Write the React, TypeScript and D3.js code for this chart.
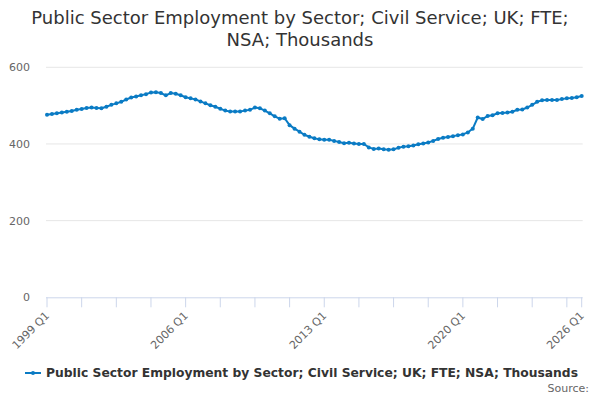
import React from "react";
import * as d3 from "d3";

const titleLines = ["Public Sector Employment by Sector; Civil Service; UK; FTE;", "NSA; Thousands"];
const seriesName = "Public Sector Employment by Sector; Civil Service; UK; FTE; NSA; Thousands";

const startYear = 1999;
const quarters: string[] = [];
for (let y = startYear; y <= 2026; y++) {
  for (let q = 1; q <= 4; q++) {
    if (y === 2026 && q > 1) break;
    quarters.push(`${y} Q${q}`);
  }
}

// thousands, FTE
const values = [
  476, 478, 480, 482, 484, 486, 489, 491, 494, 495, 494, 493, 497, 502, 506, 510,
  516, 521, 524, 527, 530, 534, 535, 533, 527, 533, 531, 527, 522, 519, 516, 511,
  506, 501, 497, 492, 487, 485, 485, 485, 487, 489, 495, 493, 487, 480, 472, 466,
  467, 449, 440, 432, 424, 419, 415, 412, 411, 411, 408, 405, 402, 403, 401, 400,
  400, 391, 387, 388, 386, 385, 386, 390, 393, 394, 396, 399, 401, 404, 408, 413,
  416, 418, 420, 423, 425, 430, 440, 469, 465, 473, 475, 480, 481, 482, 484, 489,
  490, 495, 502, 510, 514, 515, 515, 515, 517, 519, 520, 522, 525,
];

const yTicks = [0, 200, 400, 600];
const labelEvery = 28;
const tickEvery = 7;

const W = 600;
const H = 400;
const left = 47;
const right = 581.7;
const top = 67.3;
const bottom = 297.3;
const color = "#0a7bc4";

export default function App() {
  const x = d3.scaleLinear().domain([0, quarters.length - 1]).range([left, right]);
  const y = d3.scaleLinear().domain([0, 600]).range([bottom, top]);
  const line = d3
    .line<number>()
    .x((d, i) => x(i))
    .y((d) => y(d));

  const tickIdx = d3.range(0, quarters.length, tickEvery);
  if (tickIdx[tickIdx.length - 1] !== quarters.length - 1) tickIdx.push(quarters.length - 1);
  const labelIdx = tickIdx.filter((i) => i % labelEvery === 0 || i === quarters.length - 1);

  const font = "'DejaVu Sans', sans-serif";

  return (
    <svg width={W} height={H} style={{ position: "absolute", left: 0, top: 0, fontFamily: font }}>
      <rect width={W} height={H} fill="#fff" />
      {titleLines.map((t, i) => (
        <text key={i} x={W / 2} y={24 + i * 22} textAnchor="middle" fontSize={18} fill="#333">
          {t}
        </text>
      ))}
      {yTicks.map((t) => (
        <g key={t}>
          {t > 0 && <line x1={left - 1} x2={right + 1} y1={y(t)} y2={y(t)} stroke="#e6e6e6" />}
          <text x={30} y={y(t) + 4} textAnchor="end" fontSize={11} fill="#666">
            {t}
          </text>
        </g>
      ))}
      <line x1={left - 1} x2={right + 1} y1={bottom + 0.5} y2={bottom + 0.5} stroke="#ccd6eb" />
      {tickIdx.map((i) => (
        <line key={i} x1={x(i)} x2={x(i)} y1={bottom} y2={bottom + 10} stroke="#ccd6eb" />
      ))}
      {labelIdx.map((i) => (
        <text
          key={i}
          transform={`translate(${x(i) + 3},${bottom + 19}) rotate(-45)`}
          textAnchor="end"
          fontSize={11}
          fill="#666"
        >
          {quarters[i]}
        </text>
      ))}
      <path d={line(values) || ""} fill="none" stroke={color} strokeWidth={2} />
      {values.map((v, i) => (
        <circle key={i} cx={x(i)} cy={y(v)} r={2} fill={color} />
      ))}
      <g transform="translate(25,373)">
        <line x1={0} x2={16} y1={0} y2={0} stroke={color} strokeWidth={2} />
        <circle cx={8} cy={0} r={2} fill={color} />
        <text x={21} y={4} fontSize={12.3} fontWeight="bold" fill="#333">
          {seriesName}
        </text>
      </g>
      <text x={589} y={392} textAnchor="end" fontSize={11} fill="#666">
        Source:
      </text>
    </svg>
  );
}
